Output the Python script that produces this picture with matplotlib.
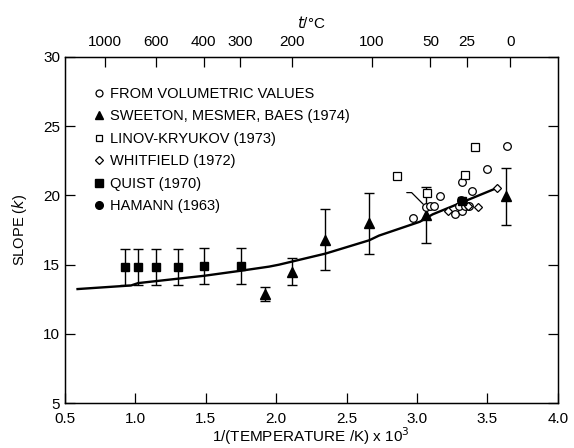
import numpy as np
import matplotlib
matplotlib.use("Agg")
import matplotlib.pyplot as plt
from matplotlib.lines import Line2D

plt.rcParams['font.family'] = ['Liberation Sans', 'DejaVu Sans']

# smoothed curve
curve_x = [0.59, 0.97, 1.02, 1.49, 1.74, 1.95, 2.02, 2.35, 2.66, 2.73, 3.02, 3.11, 3.57]
curve_y = [13.24, 13.5, 13.67, 14.2, 14.55, 14.86, 15.0, 15.8, 16.76, 17.1, 18.1, 18.63, 20.55]

# from volumetric values (open circles)
vol_x = [3.64, 3.50, 3.32, 3.39, 3.16, 3.065, 3.09, 3.12, 2.97, 3.31, 3.27, 3.32, 3.30, 3.34, 3.37]
vol_y = [23.6, 21.9, 21.0, 20.3, 19.95, 19.15, 19.2, 19.25, 18.35, 19.65, 18.65, 18.85, 19.2, 19.25, 19.2]

# Sweeton, Mesmer, Baes (1974)
swe_x = [1.92, 2.11, 2.35, 2.66, 3.065, 3.63]
swe_y = [12.9, 14.5, 16.8, 18.0, 18.6, 19.95]
swe_err = [0.5, 1.0, 2.2, 2.2, 2.0, 2.05]

# Linov-Kryukov (1973)
lin_x = [3.41, 2.86, 3.34, 3.07]
lin_y = [23.5, 21.4, 21.5, 20.2]

# Whitfield (1972)
whi_x = [3.57, 3.22, 3.43, 3.36]
whi_y = [20.55, 18.85, 19.15, 19.2]

# Quist (1970)
qui_x = [0.93, 1.02, 1.145, 1.30, 1.49, 1.75, 3.32]
qui_y = [14.8, 14.8, 14.8, 14.85, 14.9, 14.9, 19.6]
qui_err = [1.3, 1.3, 1.3, 1.3, 1.3, 1.3, 0.0]

# Hamann (1963)
ham_x = [3.32]
ham_y = [19.6]

top_ticks_c = [1000, 600, 400, 300, 200, 100, 50, 25, 0]

fig = plt.figure(figsize=(5.74, 4.48), dpi=100)
ax = fig.add_axes([0.113, 0.10, 0.859, 0.773])

ax.plot(curve_x, curve_y, color='black', lw=1.7, zorder=2)

ax.plot(vol_x, vol_y, 'o', mfc='white', mec='black', mew=0.9, ms=5.5, zorder=4)
ax.errorbar(swe_x, swe_y, yerr=swe_err, fmt='^', color='black', ms=7,
            capsize=3.5, elinewidth=1.0, capthick=1.0, zorder=3)
ax.plot(lin_x, lin_y, 's', mfc='white', mec='black', mew=0.9, ms=5.5, zorder=4)
ax.plot(whi_x, whi_y, 'D', mfc='white', mec='black', mew=0.9, ms=4.5, zorder=4)
ax.plot(ham_x, ham_y, 'o', color='black', ms=3.0, zorder=3)
ax.errorbar(qui_x, qui_y, yerr=qui_err, fmt='s', color='black', ms=6,
            capsize=3.5, elinewidth=1.0, capthick=1.0, zorder=5)

# leader line from the 50 degC volumetric point
ax.annotate('', xy=(vol_x[5], vol_y[5]), xytext=(-14, 10.5),
            textcoords='offset points',
            arrowprops=dict(arrowstyle='-', lw=0.9, color='black',
                            shrinkA=0, shrinkB=3,
                            connectionstyle='angle,angleA=0,angleB=135,rad=0'))

ax.set_xlim(0.5, 4.0)
ax.set_ylim(5, 30)
ax.set_xticks(np.arange(0.5, 4.01, 0.5))
ax.set_yticks([5, 10, 15, 20, 25, 30])
ax.tick_params(direction='in', length=7, width=0.9, labelsize=11, top=False, right=True)
ax.tick_params(axis='x', pad=6)
for s in ax.spines.values():
    s.set_linewidth(1.0)

ax.set_xlabel('1/(TEMPERATURE /K) x 10$^3$', fontsize=11, labelpad=0)
ax.set_ylabel('SLOPE ($k$)', fontsize=10.5, labelpad=10)

top = ax.twiny()
top.set_xlim(ax.get_xlim())
top.set_xticks([1000.0 / (t + 273.15) for t in top_ticks_c])
top.set_xticklabels([str(t) for t in top_ticks_c])
top.tick_params(direction='in', length=7, width=0.9, labelsize=11, pad=6)
top.set_xlabel('$t$/°C', fontsize=11, labelpad=5)

handles = [
    Line2D([], [], ls='none', marker='o', mfc='white', mec='black', mew=0.9, ms=5),
    Line2D([], [], ls='none', marker='^', color='black', ms=6),
    Line2D([], [], ls='none', marker='s', mfc='white', mec='black', mew=0.9, ms=5),
    Line2D([], [], ls='none', marker='D', mfc='white', mec='black', mew=0.9, ms=4),
    Line2D([], [], ls='none', marker='s', color='black', ms=5.5),
    Line2D([], [], ls='none', marker='o', color='black', ms=5.5),
]
labels = ['FROM VOLUMETRIC VALUES', 'SWEETON, MESMER, BAES (1974)',
          'LINOV-KRYUKOV (1973)', 'WHITFIELD (1972)', 'QUIST (1970)',
          'HAMANN (1963)']
ax.legend(handles, labels, loc='upper left', bbox_to_anchor=(0.045, 0.93),
          frameon=False, fontsize=10.5, handlelength=0.8, handletextpad=0.4,
          labelspacing=0.58, borderaxespad=0)

fig.savefig('out.png', dpi=100)
